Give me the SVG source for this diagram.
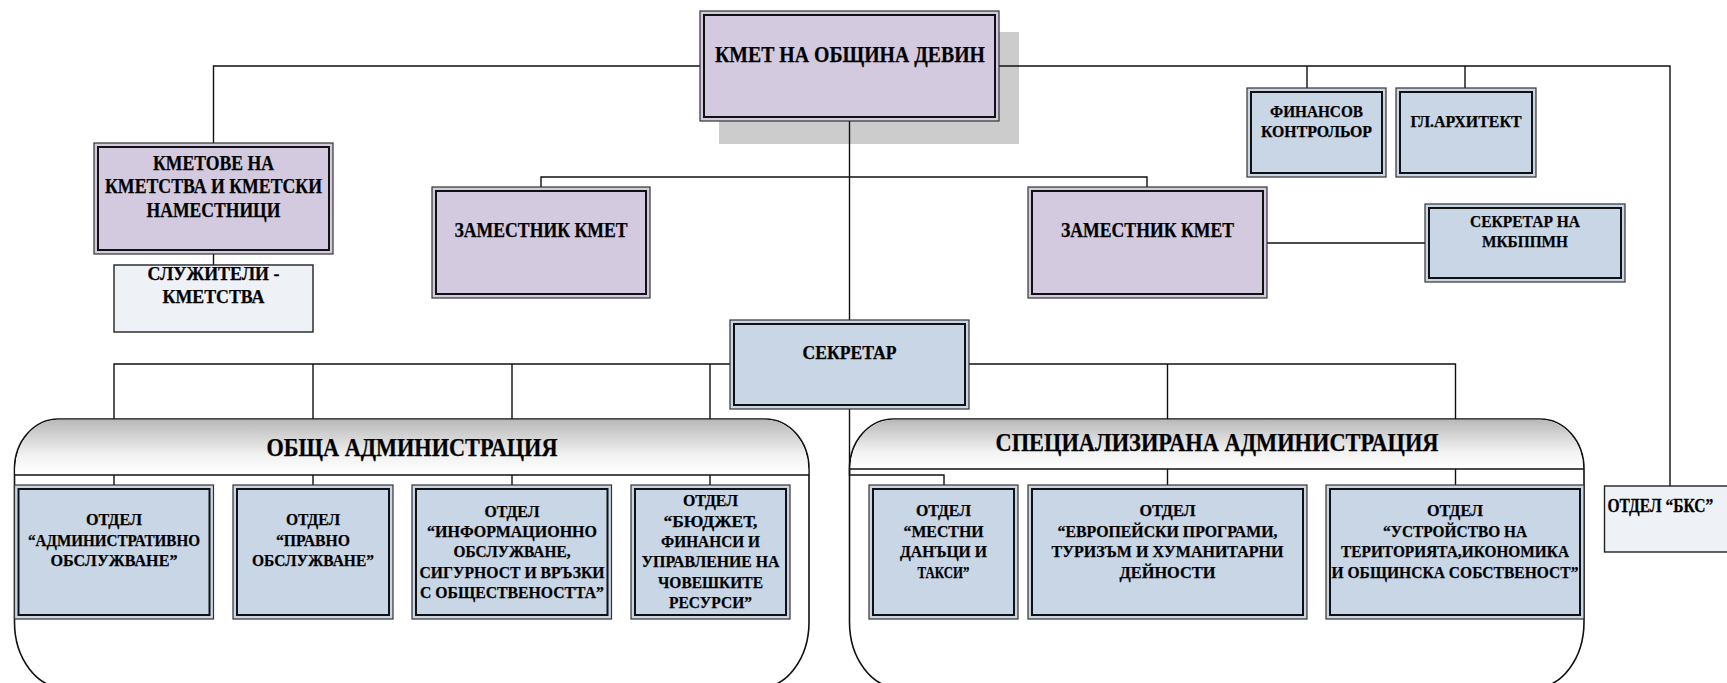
<svg xmlns="http://www.w3.org/2000/svg" width="1727" height="683" viewBox="0 0 1727 683">
<defs>
<linearGradient id="hdr" x1="0" y1="0" x2="0" y2="1">
<stop offset="0" stop-color="#b9b9b9"/>
<stop offset="0.65" stop-color="#f2f2f2"/>
<stop offset="1" stop-color="#ffffff"/>
</linearGradient>
<style>
.t{font-family:"Liberation Serif","Times New Roman","DejaVu Serif",serif;font-weight:bold;fill:#000;stroke:#000;stroke-width:0.25;text-anchor:middle}
.s16{font-size:16px}.s17{font-size:17.5px}.s18{font-size:18px}.s19{font-size:19px}.s20{font-size:20px}.s24{font-size:24px}.s25{font-size:25px}
.lav{fill:#d3cadf;stroke:#333;stroke-width:1.2}
.blu{fill:#c9d6e6;stroke:#333;stroke-width:1.2}
.lite{fill:#eef1f6;stroke:#222;stroke-width:1.4}
.in{fill:none;stroke:#111;stroke-width:2}
.ln{fill:none;stroke:#111;stroke-width:1.4}
.cont{fill:#fff;stroke:#111;stroke-width:1.6}
.hd{fill:url(#hdr);stroke:none}
</style>
</defs>
<rect width="1727" height="683" fill="#fff"/>
<rect x="719" y="32" width="300" height="112" fill="#cccccc"/>

<g id="obshta">
<path class="cont" d="M14.5,469 A44,50 0 0 1 58.5,419 H765 A44,50 0 0 1 809,469 V622 A50,66 0 0 1 759,688 H64.5 A50,66 0 0 1 14.5,622 Z"/>
<path class="hd" d="M15.3,475 V469 A43,49 0 0 1 58.5,419.8 H765 A43,49 0 0 1 808.2,469 V475 Z"/>
<path class="ln" d="M14.5 475 H809"/>
<text class="t s25" x="412" y="456" textLength="291" lengthAdjust="spacingAndGlyphs">ОБЩА АДМИНИСТРАЦИЯ</text>
</g>
<g id="spec">
<path class="cont" d="M849.5,469 A44,50 0 0 1 893.5,419 H1540 A44,50 0 0 1 1584,469 V622 A50,66 0 0 1 1534,688 H899.5 A50,66 0 0 1 849.5,622 Z"/>
<path class="hd" d="M850.3,469 A43,49 0 0 1 893.5,419.8 H1540 A43,49 0 0 1 1583.2,469 Z"/>
<path class="ln" d="M849.5 469 H1584"/>
<text class="t s25" x="1217" y="451" textLength="443" lengthAdjust="spacingAndGlyphs">СПЕЦИАЛИЗИРАНА АДМИНИСТРАЦИЯ</text>
</g>

<g id="connectors" class="ln">
<path d="M213.5 143 V66 H1670 V486"/>
<path d="M1307 66 V88 M1465 66 V88"/>
<path d="M849.5 121 V320"/>
<path d="M541 187 V177 H1147 V187"/>
<path d="M213.5 254 V265"/>
<path d="M1267 243 H1425"/>
<path d="M114 419 V364 H730 M313 364 V419 M512 364 V419 M710 364 V419"/>
<path d="M969 364 H1455.5 V419 M1167.5 364 V419"/>
<path d="M849.5 409 V475 H944 V485"/>
<path d="M114 475 V485 M313 475 V485 M512 475 V485 M710 475 V485"/>
<path d="M1167.5 469 V485 M1455.5 469 V485"/>
</g>

<g id="kmet">
<rect class="lav" x="700" y="11" width="299" height="110"/>
<rect class="in" x="704" y="15" width="291" height="102"/>
<text class="t s24" x="850" y="62" textLength="270" lengthAdjust="spacingAndGlyphs">КМЕТ НА ОБЩИНА ДЕВИН</text>
</g>
<g id="kmetove">
<rect class="lav" x="94" y="143" width="239" height="111"/>
<rect class="in" x="98" y="147" width="231" height="103"/>
<text class="t s20" x="213.5" y="170" textLength="121" lengthAdjust="spacingAndGlyphs">КМЕТОВЕ НА</text>
<text class="t s20" x="213.5" y="193" textLength="217" lengthAdjust="spacingAndGlyphs">КМЕТСТВА И КМЕТСКИ</text>
<text class="t s20" x="213.5" y="217" textLength="134" lengthAdjust="spacingAndGlyphs">НАМЕСТНИЦИ</text>
</g>
<g id="sluzhiteli">
<rect class="lite" x="114" y="265" width="199" height="67"/>
<text class="t s19" x="213.5" y="280" textLength="132" lengthAdjust="spacingAndGlyphs">СЛУЖИТЕЛИ -</text>
<text class="t s19" x="213.5" y="303" textLength="102" lengthAdjust="spacingAndGlyphs">КМЕТСТВА</text>
</g>
<g id="zam1">
<rect class="lav" x="432" y="187" width="218" height="111"/>
<rect class="in" x="436" y="191" width="210" height="103"/>
<text class="t s20" x="541" y="237" textLength="173" lengthAdjust="spacingAndGlyphs">ЗАМЕСТНИК КМЕТ</text>
</g>
<g id="zam2">
<rect class="lav" x="1028" y="187" width="239" height="111"/>
<rect class="in" x="1032" y="191" width="231" height="103"/>
<text class="t s20" x="1147.5" y="237" textLength="173" lengthAdjust="spacingAndGlyphs">ЗАМЕСТНИК КМЕТ</text>
</g>
<g id="finkontrol">
<rect class="blu" x="1247" y="88" width="139" height="89"/>
<rect class="in" x="1251" y="92" width="131" height="81"/>
<text class="t s16" x="1316.5" y="117" textLength="93" lengthAdjust="spacingAndGlyphs">ФИНАНСОВ</text>
<text class="t s16" x="1316.5" y="137" textLength="111" lengthAdjust="spacingAndGlyphs">КОНТРОЛЬОР</text>
</g>
<g id="glarh">
<rect class="blu" x="1396" y="88" width="140" height="89"/>
<rect class="in" x="1400" y="92" width="132" height="81"/>
<text class="t s16" x="1466" y="127" textLength="111" lengthAdjust="spacingAndGlyphs">ГЛ.АРХИТЕКТ</text>
</g>
<g id="mkbppmn">
<rect class="blu" x="1425" y="204" width="200" height="78"/>
<rect class="in" x="1429" y="208" width="192" height="70"/>
<text class="t s17" x="1525" y="227" textLength="110" lengthAdjust="spacingAndGlyphs">СЕКРЕТАР НА</text>
<text class="t s17" x="1525" y="247" textLength="86" lengthAdjust="spacingAndGlyphs">МКБППМН</text>
</g>
<g id="sekretar">
<rect class="blu" x="730" y="320" width="239" height="89"/>
<rect class="in" x="734" y="324" width="231" height="81"/>
<text class="t s18" x="849.5" y="359" textLength="94" lengthAdjust="spacingAndGlyphs">СЕКРЕТАР</text>
</g>

<g id="admin">
<rect class="blu" x="14.5" y="485" width="199" height="134"/>
<rect class="in" x="18.5" y="489" width="191" height="126"/>
<text class="t s17" x="114" y="525" textLength="56" lengthAdjust="spacingAndGlyphs">ОТДЕЛ</text>
<text class="t s17" x="114" y="546" textLength="172" lengthAdjust="spacingAndGlyphs">“АДМИНИСТРАТИВНО</text>
<text class="t s17" x="114" y="566" textLength="127" lengthAdjust="spacingAndGlyphs">ОБСЛУЖВАНЕ”</text>
</g>
<g id="pravno">
<rect class="blu" x="233" y="485" width="160" height="134"/>
<rect class="in" x="237" y="489" width="152" height="126"/>
<text class="t s17" x="313" y="525" textLength="54" lengthAdjust="spacingAndGlyphs">ОТДЕЛ</text>
<text class="t s17" x="313" y="546" textLength="74" lengthAdjust="spacingAndGlyphs">“ПРАВНО</text>
<text class="t s17" x="313" y="566" textLength="122" lengthAdjust="spacingAndGlyphs">ОБСЛУЖВАНЕ”</text>
</g>
<g id="inform">
<rect class="blu" x="412" y="485" width="199.5" height="134"/>
<rect class="in" x="416" y="489" width="191.5" height="126"/>
<text class="t s17" x="512" y="517" textLength="55" lengthAdjust="spacingAndGlyphs">ОТДЕЛ</text>
<text class="t s17" x="512" y="537" textLength="170" lengthAdjust="spacingAndGlyphs">“ИНФОРМАЦИОННО</text>
<text class="t s17" x="512" y="557" textLength="117" lengthAdjust="spacingAndGlyphs">ОБСЛУЖВАНЕ,</text>
<text class="t s17" x="512" y="578" textLength="185" lengthAdjust="spacingAndGlyphs">СИГУРНОСТ И ВРЪЗКИ</text>
<text class="t s17" x="512" y="598" textLength="184" lengthAdjust="spacingAndGlyphs">С ОБЩЕСТВЕНОСТТА”</text>
</g>
<g id="budget">
<rect class="blu" x="631" y="485" width="159" height="134"/>
<rect class="in" x="635" y="489" width="151" height="126"/>
<text class="t s17" x="710.5" y="506" textLength="55" lengthAdjust="spacingAndGlyphs">ОТДЕЛ</text>
<text class="t s17" x="710.5" y="527" textLength="94" lengthAdjust="spacingAndGlyphs">“БЮДЖЕТ,</text>
<text class="t s17" x="710.5" y="547" textLength="99" lengthAdjust="spacingAndGlyphs">ФИНАНСИ И</text>
<text class="t s17" x="710.5" y="567" textLength="138" lengthAdjust="spacingAndGlyphs">УПРАВЛЕНИЕ НА</text>
<text class="t s17" x="710.5" y="588" textLength="105" lengthAdjust="spacingAndGlyphs">ЧОВЕШКИТЕ</text>
<text class="t s17" x="710.5" y="608" textLength="83" lengthAdjust="spacingAndGlyphs">РЕСУРСИ”</text>
</g>
<g id="mestni">
<rect class="blu" x="869" y="485" width="149" height="134"/>
<rect class="in" x="873" y="489" width="141" height="126"/>
<text class="t s17" x="943.5" y="516" textLength="55" lengthAdjust="spacingAndGlyphs">ОТДЕЛ</text>
<text class="t s17" x="943.5" y="537" textLength="80" lengthAdjust="spacingAndGlyphs">“МЕСТНИ</text>
<text class="t s17" x="943.5" y="557" textLength="87" lengthAdjust="spacingAndGlyphs">ДАНЪЦИ И</text>
<text class="t s17" x="943.5" y="578" textLength="52" lengthAdjust="spacingAndGlyphs">ТАКСИ”</text>
</g>
<g id="evro">
<rect class="blu" x="1028" y="485" width="279" height="134"/>
<rect class="in" x="1032" y="489" width="271" height="126"/>
<text class="t s17" x="1167.5" y="516" textLength="56" lengthAdjust="spacingAndGlyphs">ОТДЕЛ</text>
<text class="t s17" x="1167.5" y="537" textLength="220" lengthAdjust="spacingAndGlyphs">“ЕВРОПЕЙСКИ ПРОГРАМИ,</text>
<text class="t s17" x="1167.5" y="557" textLength="232" lengthAdjust="spacingAndGlyphs">ТУРИЗЪМ И ХУМАНИТАРНИ</text>
<text class="t s17" x="1167.5" y="578" textLength="96" lengthAdjust="spacingAndGlyphs">ДЕЙНОСТИ</text>
</g>
<g id="ustroistvo">
<rect class="blu" x="1326" y="485" width="258" height="134"/>
<rect class="in" x="1330" y="489" width="250" height="126"/>
<text class="t s17" x="1455" y="516" textLength="56" lengthAdjust="spacingAndGlyphs">ОТДЕЛ</text>
<text class="t s17" x="1455" y="537" textLength="144" lengthAdjust="spacingAndGlyphs">“УСТРОЙСТВО НА</text>
<text class="t s17" x="1455" y="557" textLength="228" lengthAdjust="spacingAndGlyphs">ТЕРИТОРИЯТА,ИКОНОМИКА</text>
<text class="t s17" x="1455" y="578" textLength="247" lengthAdjust="spacingAndGlyphs">И ОБЩИНСКА СОБСТВЕНОСТ”</text>
</g>
<g id="bks">
<rect class="lite" x="1604.5" y="486" width="140" height="66"/>
<text class="t s19" transform="translate(1607.5,512) scale(0.82,1)" x="0" y="0" style="text-anchor:start">ОТДЕЛ “БКС”</text>
</g>
</svg>
